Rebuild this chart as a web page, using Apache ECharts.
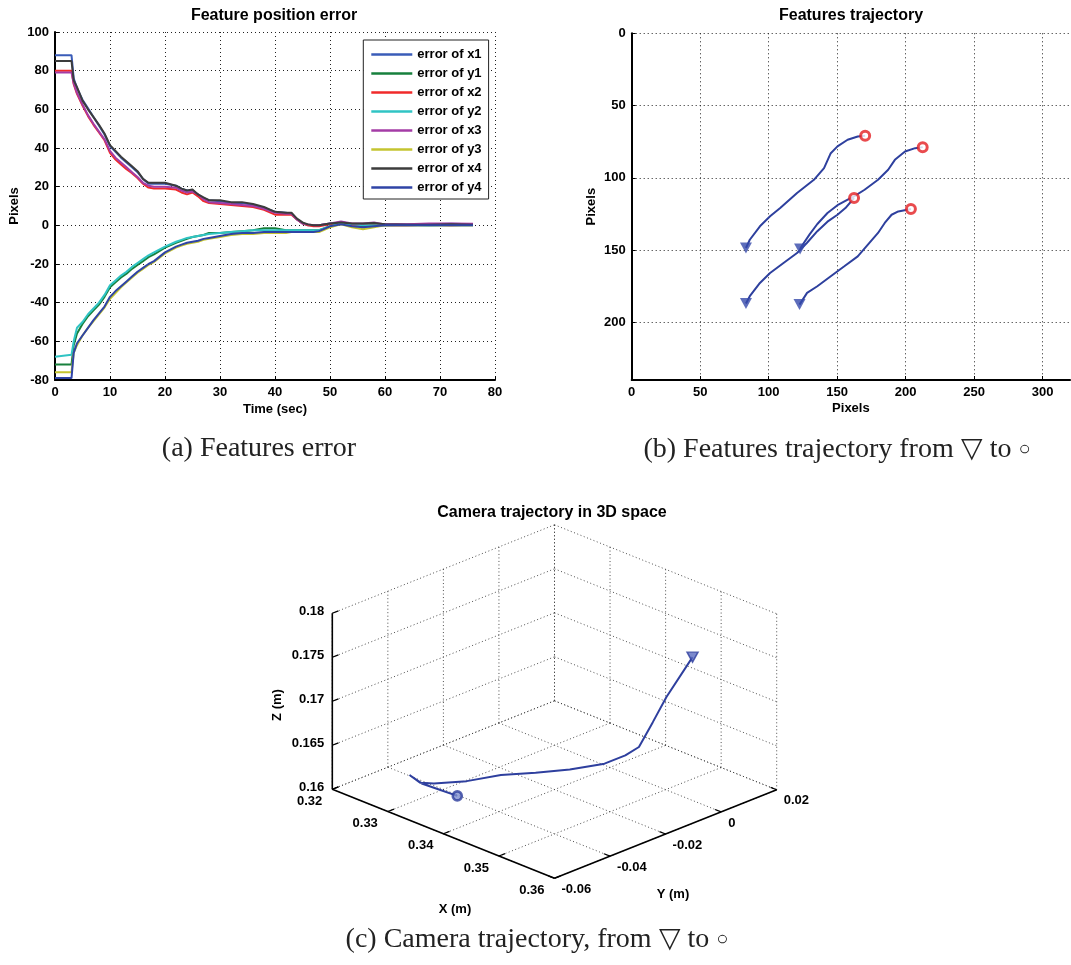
<!DOCTYPE html>
<html><head><meta charset="utf-8">
<script src="https://cdn.jsdelivr.net/npm/echarts@6/dist/echarts.min.js"></script>
<style>html,body{margin:0;padding:0;background:#fff}#c{width:1071px;height:965px}</style>
</head><body><div id="c"></div>
<script>
// ---------- (a) Feature position error ----------
const timeSec = [0,3,3.4,4,5,6,7,8,9,10, 11,12,13,14,15,16,17,18,20,22, 23,24,25,26,27,28,30,32,34,36, 38,40,42,43,44,45,46,47,48,50, 52,54,56,58,60,64,68,72,76];
const errX1 = [88,88,76,71,65,60.5,56,51.5,47,41, 38,35,32.5,30,27.5,24,21.5,21.5,21.5,20.5, 19,18,18,16,14,13,12.5,11.5,11.5,10.5, 9,7,6.5,6,3,1,0,0,0,1, 1,0.5,0.5,0.8,0.5,0.5,0.5,0.8,0.5];
const errY1 = [-72,-72,-62,-56,-51,-47,-44,-41,-37,-32, -29.5,-27,-25,-22.5,-20.5,-18.5,-16.5,-15,-11.5,-9, -8,-7,-6,-5.5,-5,-4,-4,-3.5,-3,-2.5, -1.5,-1.5,-2.5,-2.5,-2.5,-2.5,-2.5,-2.5,-2.5,-0.5, 1,0,-0.5,0,0,0,0,0,0];
const errX2 = [80,80,73,68,62,56.5,52,48,44,37.5, 34,31.5,29,27,24.5,21.5,19.5,19,19,18.5, 17,16,17,15,12.5,11.5,11,10.5,10,9.5, 8,5.5,5.5,5.5,3,1,0,-0.5,-0.5,0.5, 1,0,0,0.3,0,0,0.3,0,0.3];
const errY2 = [-68,-67,-60,-53,-50,-46,-43,-40,-36,-31, -28.5,-26,-24,-21.5,-19.5,-17.5,-15.5,-14,-11,-8.5, -7.5,-6.5,-6,-5.5,-5,-4.5,-4,-3.5,-3,-2.5, -2.5,-2.5,-2.5,-2.5,-2.5,-2.5,-2.5,-2.5,-2.5,-0.5, 1,0.5,0,0,0,0.3,0,0.3,0.3];
const errX3 = [79,79,73.5,68.5,62.5,57,52.5,48.5,44.5,38.5, 35,32.5,30,27.5,25,22,20.5,20,20,19.5, 18,17,17.5,16,13.5,12,11.5,11,10.5,10, 8.5,6.5,6,6,3,1,0.5,0,0,1, 2,1,1,1.5,0.5,0.5,1,1,0.8];
const errY3 = [-76,-76,-66,-62,-57,-53,-49.5,-46,-42.5,-38, -35,-32,-29.5,-27,-24.5,-22.5,-20.5,-19,-14.5,-11.5, -10.5,-9.5,-9,-8.5,-7.5,-7,-6,-5,-4.5,-4.5, -4,-4,-4,-3.5,-3.5,-3.5,-3.5,-3.5,-3.5,-1, 0.5,-1,-2,-1,0,0,0,0,0];
const errX4 = [85,85,75,71.5,64.5,60,56,52,47.5,41.5, 38.5,35.5,33,30.5,28,24,22,22,22,20.5, 19,18,18.5,16,14.5,13,13,12,12,11, 9.5,7,6.5,6.5,3.5,1.5,0.5,0,0,1, 1.5,1,1,1.2,0.5,0.3,0.3,0.5,0.3];
const errY4 = [-79,-79,-66,-61,-57,-53,-49,-45.5,-42,-37, -34,-31.5,-29,-26.5,-24,-22,-20,-18.5,-14,-11, -10,-9,-8.5,-8,-7,-6.5,-5.5,-4.5,-4,-4, -3.5,-3.5,-3.5,-3.5,-3.5,-3.5,-3.5,-3.5,-3,-0.5, 0.5,-0.5,-1,-0.5,0,0,0,0,0];
const errNames = ['error of x1','error of y1','error of x2','error of y2','error of x3','error of y3','error of x4','error of y4'];

// ---------- (b) Features trajectory (image pixels) ----------
const track1 = [[83.4,148.6],[86.2,142.9],[93.6,133.6],[101,126.7],[108.4,121],[120.7,110.6],[133,101.4],[140.4,93.3],[145.3,83],[150.2,78.3],[157.6,73.7],[165,71.4],[170.4,71]];
const track2 = [[122.9,149.3],[125,146],[130,139],[135.5,132],[142.9,124.4],[150.2,119],[157,115.5],[162,113],[170,108.3],[179.8,101.4],[187.2,94.5],[192.1,87.6],[199.5,81.8],[206.9,79.5],[212.4,78.8]];
const track3 = [[83.4,187.1],[86.2,182],[93.6,172.8],[101,165.9],[110.8,159],[120.7,152.1],[128,145],[135.5,137],[142.9,130.4],[150.2,125.6],[156,121],[162.3,114]];
const track4 = [[122.5,187.8],[128,179.7],[135.5,175.1],[145.3,168.2],[155.2,161.3],[165,154.4],[172.4,146.3],[179.8,138.2],[184.7,131.3],[189.7,125.6],[194.6,123.3],[203.8,121.6]];

// ---------- (c) Camera trajectory in 3D (metres) ----------
const camX = [0.3523,0.3520,0.3495,0.3479,0.3470,0.3456,0.3428,0.3395,0.3359,0.3332,0.3298,0.3284,0.3257,0.3277,0.3306,0.3337];
const camY = [0.0051,-0.0037,-0.0036,-0.0054,-0.0085,-0.0132,-0.0201,-0.0258,-0.0311,-0.0380,-0.0430,-0.0452,-0.0436,-0.0432,-0.0428,-0.0424];
const camZ = [0.175,0.1715,0.168,0.165,0.1642,0.1635,0.163,0.1625,0.162,0.1615,0.161,0.161,0.161,0.1605,0.1605,0.1605];
const xTicks3d = [0.32,0.33,0.34,0.35,0.36];
const yTicks3d = [-0.06,-0.04,-0.02,0,0.02];
const zTicks3d = [0.16,0.165,0.17,0.175,0.18];

// ---------- helpers ----------
const SANS = '"Liberation Sans", Arial, Helvetica, sans-serif';
const SERIF = '"Liberation Serif", "Times New Roman", serif';
const X0 = xTicks3d[0], X1 = xTicks3d[xTicks3d.length-1];
const Y0 = yTicks3d[0], Y1 = yTicks3d[yTicks3d.length-1];
const Z0 = zTicks3d[0], Z1 = zTicks3d[zTicks3d.length-1];
// fixed oblique view (MATLAB default az/el look)
function proj(x, y, z) {
  const a = (x - X0) / (X1 - X0), b = (y - Y0) / (Y1 - Y0), c = (z - Z0) / (Z1 - Z0);
  return [72.3 + 222.2 * a + 222.2 * b, 130.7 - 89 * a + 88.5 * b + 176 * c];
}

const axisCommon = {
  axisLine: { show: true, onZero: false, lineStyle: { color: '#000', width: 2 } },
  axisTick: { show: true, inside: true, length: 4, lineStyle: { color: '#000', width: 1 } },
  splitLine: { show: true, lineStyle: { color: '#222', width: 1, type: [1, 3] } },
  axisLabel: { color: '#000', fontFamily: SANS, fontWeight: 'bold', fontSize: 13, margin: 6 },
  nameTextStyle: { color: '#000', fontFamily: SANS, fontWeight: 'bold', fontSize: 13 }
};
function ax(extra) { return Object.assign({}, JSON.parse(JSON.stringify(axisCommon)), extra); }

const errData = [errX1, errY1, errX2, errY2, errX3, errY3, errX4, errY4];
const errColors = ['#3a5cb8','#17803d','#f02a2a','#30c4c4','#a43ca6','#c4c430','#3c3c3c','#2f44a6'];
const series = [];
errData.forEach((vals, i) => {
  series.push({
    type: 'line', name: errNames[i], xAxisIndex: 0, yAxisIndex: 0, symbol: 'none',
    data: timeSec.map((t, j) => [t, vals[j]]),
    lineStyle: { color: errColors[i], width: 2 }, itemStyle: { color: errColors[i] }, animation: false
  });
});

const tracks = [track1, track2, track3, track4];
const trackBlue = '#2e409e';
tracks.forEach(tr => {
  series.push({ type: 'line', xAxisIndex: 1, yAxisIndex: 1, symbol: 'none', data: tr,
    lineStyle: { color: trackBlue, width: 2 }, animation: false });
});
const triPath = 'path://M0,0 L12,0 L6,11 Z';
series.push({ type: 'scatter', xAxisIndex: 1, yAxisIndex: 1, symbol: triPath, symbolSize: [12, 11],
  data: tracks.map(t => t[0]), itemStyle: { color: '#3448aa' }, z: 5, animation: false });
series.push({ type: 'scatter', xAxisIndex: 1, yAxisIndex: 1, symbol: 'circle', symbolSize: 9,
  data: tracks.map(t => t[t.length - 1]), itemStyle: { color: '#fff', borderColor: '#e41e22', borderWidth: 3 }, z: 5, animation: false });

// 3D box grid segments
const gridSegs = [];
xTicks3d.forEach(x => { gridSegs.push([x, Y0, Z0, x, Y1, Z0]); gridSegs.push([x, Y1, Z0, x, Y1, Z1]); });
yTicks3d.forEach(y => { gridSegs.push([X0, y, Z0, X1, y, Z0]); gridSegs.push([X0, y, Z0, X0, y, Z1]); });
zTicks3d.forEach(z => { gridSegs.push([X0, Y0, z, X0, Y1, z]); gridSegs.push([X0, Y1, z, X1, Y1, z]); });
const axisSegs = [[X0, Y0, Z0, X1, Y0, Z0], [X1, Y0, Z0, X1, Y1, Z0], [X0, Y0, Z0, X0, Y0, Z1]];
const tickSegs = [];
xTicks3d.forEach(x => tickSegs.push([x, Y0, Z0, x, Y0 + 0.0022, Z0]));
yTicks3d.forEach(y => tickSegs.push([X1, y, Z0, X1 - 0.0011, y, Z0]));
zTicks3d.forEach(z => tickSegs.push([X0, Y0, z, X0, Y0 + 0.0022, z]));

function segRender(color, width, dash) {
  return function (params, api) {
    const p = api.coord(proj(api.value(0), api.value(1), api.value(2)));
    const q = api.coord(proj(api.value(3), api.value(4), api.value(5)));
    return { type: 'line', silent: true, shape: { x1: p[0], y1: p[1], x2: q[0], y2: q[1] },
      style: { stroke: color, lineWidth: width, lineDash: dash } };
  };
}
function labelRender(labels, dx, dy, align) {
  return function (params, api) {
    const p = api.coord(proj(api.value(0), api.value(1), api.value(2)));
    return { type: 'text', silent: true, x: p[0] + dx, y: p[1] + dy,
      style: { text: labels[params.dataIndex], align: align, verticalAlign: 'middle',
        font: 'bold 13px ' + SANS, fill: '#000' } };
  };
}
const dims6 = ['a','b','c','d','e','f'];
series.push({ type: 'custom', xAxisIndex: 2, yAxisIndex: 2, renderItem: segRender('#3a3a3a', 0.9, [1, 2.5]), data: gridSegs, dimensions: dims6, animation: false, z: 1 });
series.push({ type: 'custom', xAxisIndex: 2, yAxisIndex: 2, renderItem: segRender('#000', 1.6, null), data: axisSegs, dimensions: dims6, animation: false, z: 3 });
series.push({ type: 'custom', xAxisIndex: 2, yAxisIndex: 2, renderItem: segRender('#000', 1.2, null), data: tickSegs, dimensions: dims6, animation: false, z: 3 });
series.push({ type: 'custom', xAxisIndex: 2, yAxisIndex: 2, renderItem: labelRender(xTicks3d.map(String), -10, 12, 'right'),
  data: xTicks3d.map(x => [x, Y0, Z0]), dimensions: ['a','b','c'], animation: false });
series.push({ type: 'custom', xAxisIndex: 2, yAxisIndex: 2, renderItem: labelRender(yTicks3d.map(String), 7, 11, 'left'),
  data: yTicks3d.map(y => [X1, y, Z0]), dimensions: ['a','b','c'], animation: false });
series.push({ type: 'custom', xAxisIndex: 2, yAxisIndex: 2, renderItem: labelRender(zTicks3d.map(String), -8, -2, 'right'),
  data: zTicks3d.map(z => [X0, Y0, z]), dimensions: ['a','b','c'], animation: false });
const camPts = camX.map((x, i) => proj(x, camY[i], camZ[i]));
series.push({ type: 'line', xAxisIndex: 2, yAxisIndex: 2, symbol: 'none', data: camPts,
  lineStyle: { color: '#2e3f9e', width: 2 }, animation: false, z: 4 });
series.push({ type: 'scatter', xAxisIndex: 2, yAxisIndex: 2, symbol: triPath, symbolSize: [11, 10],
  data: [camPts[0]], itemStyle: { color: '#5a6cc0', borderColor: '#2e3f9e', borderWidth: 1.5 }, z: 5, animation: false });
series.push({ type: 'scatter', xAxisIndex: 2, yAxisIndex: 2, symbol: 'circle', symbolSize: 9,
  data: [camPts[camPts.length - 1]], itemStyle: { color: '#8090d0', borderColor: '#2e3f9e', borderWidth: 2.6 }, z: 5, animation: false });

const captionRich = { s: { font: '20px ' + SERIF, fill: '#222', verticalAlign: 'middle' } };
const option = {
  animation: false,
  backgroundColor: '#fff',
  grid: [
    { left: 55, top: 32, width: 440, height: 348, outerBoundsMode: 'none', containLabel: false },
    { left: 631.7, top: 33.3, width: 438.4, height: 346.7, outerBoundsMode: 'none', containLabel: false },
    { left: 260, top: 520, width: 540, height: 400, outerBoundsMode: 'none', containLabel: false }
  ],
  xAxis: [
    ax({ gridIndex: 0, type: 'value', min: 0, max: 80, interval: 10, name: 'Time (sec)', nameLocation: 'middle', nameGap: 23 }),
    ax({ gridIndex: 1, type: 'value', min: 0, max: 320, interval: 50, name: 'Pixels', nameLocation: 'middle', nameGap: 22 }),
    { gridIndex: 2, type: 'value', min: 0, max: 540, show: false }
  ],
  yAxis: [
    ax({ gridIndex: 0, type: 'value', min: -80, max: 100, interval: 20, name: 'Pixels', nameLocation: 'middle', nameGap: 34 }),
    ax({ gridIndex: 1, type: 'value', min: 0, max: 240, interval: 50, inverse: true, name: 'Pixels', nameLocation: 'middle', nameGap: 34 }),
    { gridIndex: 2, type: 'value', min: 0, max: 400, show: false }
  ],
  legend: {
    data: errNames, orient: 'vertical', left: 363.3, top: 40, icon: 'rect', itemWidth: 41, itemHeight: 2.5, itemGap: 4,
    padding: [7, 7, 4, 8], borderColor: '#222', borderWidth: 1, backgroundColor: '#fff', borderRadius: 0,
    selectedMode: false, textStyle: { color: '#000', fontFamily: SANS, fontWeight: 'bold', fontSize: 13, lineHeight: 15 }
  },
  graphic: [
    { type: 'text', x: 274, y: 16, style: { text: 'Feature position error', align: 'center', verticalAlign: 'middle', font: 'bold 16px ' + SANS, fill: '#000' } },
    { type: 'text', x: 851, y: 16, style: { text: 'Features trajectory', align: 'center', verticalAlign: 'middle', font: 'bold 16px ' + SANS, fill: '#000' } },
    { type: 'text', x: 552, y: 513, style: { text: 'Camera trajectory in 3D space', align: 'center', verticalAlign: 'middle', font: 'bold 16px ' + SANS, fill: '#000' } },
    { type: 'text', x: 455, y: 909, style: { text: 'X (m)', align: 'center', verticalAlign: 'middle', font: 'bold 13px ' + SANS, fill: '#000' } },
    { type: 'text', x: 673, y: 894, style: { text: 'Y (m)', align: 'center', verticalAlign: 'middle', font: 'bold 13px ' + SANS, fill: '#000' } },
    { type: 'text', x: 277, y: 705, rotation: Math.PI / 2, style: { text: 'Z (m)', align: 'center', verticalAlign: 'middle', font: 'bold 13px ' + SANS, fill: '#000' } },
    { type: 'text', x: 259, y: 449, style: { text: '(a) Features error', align: 'center', verticalAlign: 'middle', font: '28px ' + SERIF, fill: '#222' } },
    { type: 'text', x: 837, y: 450, style: { text: '(b) Features trajectory from ▽ to {s|○}', rich: captionRich, align: 'center', verticalAlign: 'middle', font: '28px ' + SERIF, fill: '#222' } },
    { type: 'text', x: 537, y: 940, style: { text: '(c) Camera trajectory, from ▽ to {s|○}', rich: captionRich, align: 'center', verticalAlign: 'middle', font: '28px ' + SERIF, fill: '#222' } }
  ],
  series: series
};
// hide the non-tick extents of plot (b)
option.xAxis[1].axisLabel.showMaxLabel = false;
option.yAxis[1].axisLabel.showMaxLabel = false;
option.xAxis[1].splitLine.showMaxLine = false;
option.yAxis[1].splitLine.showMaxLine = false;

const chart = echarts.init(document.getElementById('c'), null, { renderer: 'canvas' });
chart.setOption(option);
</script>
</body></html>
